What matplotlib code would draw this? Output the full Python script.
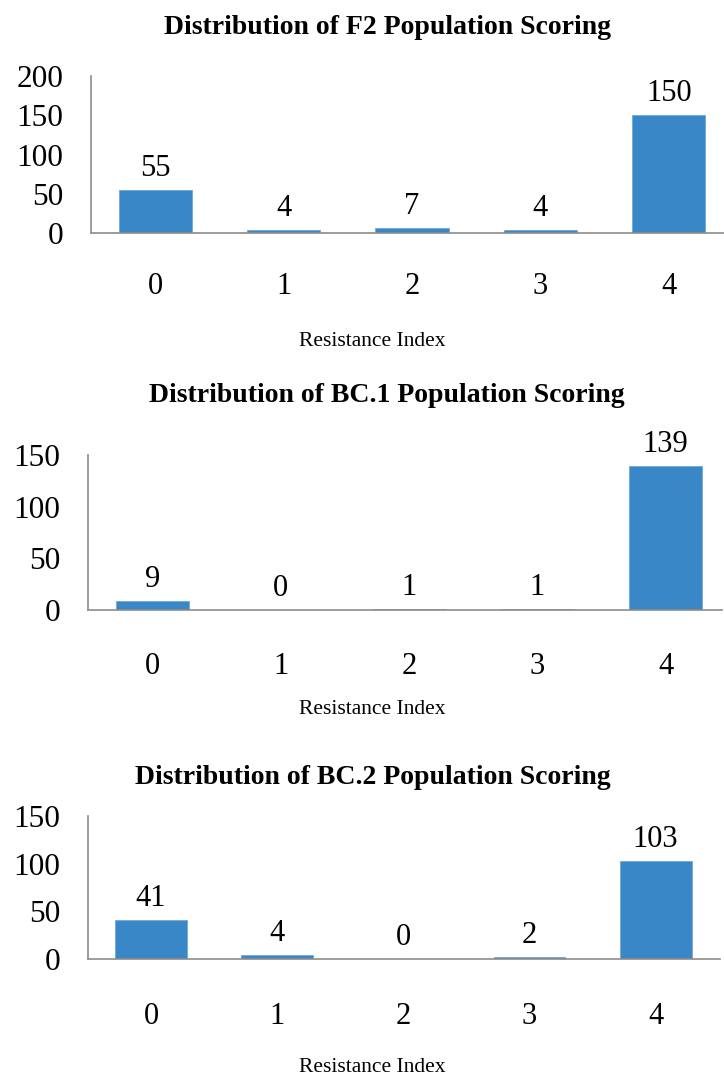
import matplotlib
matplotlib.use("Agg")
import matplotlib.pyplot as plt

plt.rcParams["font.family"] = ["Liberation Serif", "DejaVu Serif"]

# Resistance index scores and plant counts per population
resistance_index = ["0", "1", "2", "3", "4"]
f2_counts = [55, 4, 7, 4, 150]
bc1_counts = [9, 0, 1, 1, 139]
bc2_counts = [41, 4, 0, 2, 103]
titles = [
    "Distribution of F2 Population Scoring",
    "Distribution of BC.1 Population Scoring",
    "Distribution of BC.2 Population Scoring",
]
y_ticks = [[0, 50, 100, 150, 200], [0, 50, 100, 150], [0, 50, 100, 150]]

W, H = 724, 1075
BAR = "#3a87c8"
SPINE = "#8c8c8c"

fig = plt.figure(figsize=(W / 100, H / 100), dpi=100)

# pixel boxes: left, right, top, bottom of each axes, plus text anchors
layout = [
    dict(box=(91, 724, 76, 233), xmax=4.43, title=(387, 28), xlab=(372, 342), tick_pad=28),
    dict(box=(88, 722, 455, 610), xmax=4.44, title=(387, 396), xlab=(372, 709), tick_pad=30),
    dict(box=(88, 720, 816, 959), xmax=4.51, title=(373, 778), xlab=(372, 1067), tick_pad=31),
]

for counts, title, yt, lay in zip([f2_counts, bc1_counts, bc2_counts], titles, y_ticks, layout):
    l, r, t, b = lay["box"]
    ax = fig.add_axes([l / W, 1 - b / H, (r - l) / W, (b - t) / H])
    x = range(len(resistance_index))
    bars = ax.bar(x, counts, width=0.57, color=BAR, edgecolor="#6fa9da", linewidth=0.6)
    for bar, v in zip(bars, counts):
        ax.annotate(str(v), (bar.get_x() + bar.get_width() / 2, v),
                    xytext=(0, 10), textcoords="offset points",
                    ha="center", va="baseline", fontsize=22)
    ax.set_xlim(-0.5, lay["xmax"])
    ax.set_ylim(0, yt[-1])
    ax.set_yticks(yt)
    ax.set_xticks(list(x))
    ax.set_xticklabels(resistance_index)
    ax.tick_params(axis="y", length=0, pad=20, labelsize=22.5)
    ax.tick_params(axis="x", length=0, pad=lay["tick_pad"], labelsize=22)
    for s in ("top", "right"):
        ax.spines[s].set_visible(False)
    for s in ("left", "bottom"):
        ax.spines[s].set_color(SPINE)
        ax.spines[s].set_linewidth(1.2)
    fig.text(lay["title"][0] / W, 1 - lay["title"][1] / H, title,
             ha="center", va="center", fontsize=20, fontweight="bold")
    fig.text(lay["xlab"][0] / W, 1 - lay["xlab"][1] / H, "Resistance Index",
             ha="center", va="center", fontsize=15.5)

fig.savefig("out.png", dpi=100)
